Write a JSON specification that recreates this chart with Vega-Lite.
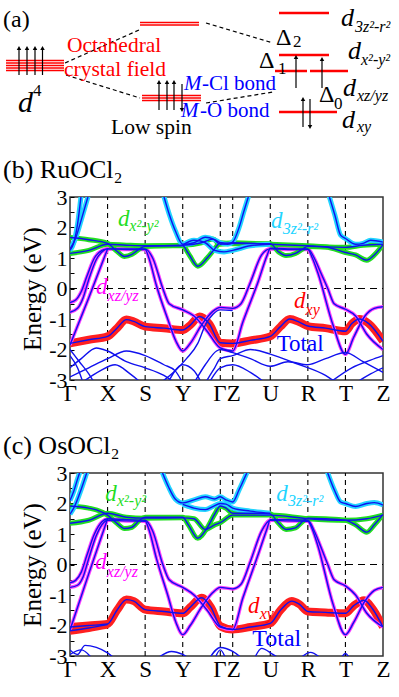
{
"$schema": "https://vega.github.io/schema/vega-lite/v6.json",
"padding": {"left": 2, "top": 0, "right": 0, "bottom": 0},
"spacing": 93,
"bounds": "flush",
"config": {"view": {"stroke": "#333", "strokeWidth": 1.5}, "font": "Liberation Serif", "axis": {"labelOverlap": false}},
"resolve": {"scale": {"x": "independent", "y": "independent", "color": "independent", "shape": "independent"}},
"datasets": {
"aLevels": [
{"g":"l","x":5,"x2":63,"y":60.5},{"g":"l","x":5,"x2":63,"y":63},{"g":"l","x":5,"x2":63,"y":65.5},{"g":"l","x":5,"x2":63,"y":68},{"g":"l","x":5,"x2":63,"y":70.5},
{"g":"m","x":139,"x2":198,"y":22.5},{"g":"m","x":139,"x2":198,"y":25},
{"g":"m","x":141,"x2":200,"y":95.5},{"g":"m","x":141,"x2":200,"y":98},{"g":"m","x":141,"x2":200,"y":100.5},
{"g":"r","x":278,"x2":328,"y":13},{"g":"r","x":278,"x2":328,"y":55},{"g":"r","x":274,"x2":306,"y":71},{"g":"r","x":309,"x2":347,"y":71},{"g":"r","x":278,"x2":336,"y":112}
],
"aDash": [
{"x":64,"y":63,"x2":138,"y2":30},{"x":65,"y":75,"x2":139,"y2":98},{"x":205,"y":23,"x2":272,"y2":43},{"x":205,"y":103,"x2":272,"y2":92}
],
"aArrows": [
{"x":18,"y":75,"y2":48,"d":"up"},{"x":26,"y":75,"y2":48,"d":"up"},{"x":34,"y":75,"y2":48,"d":"up"},{"x":41.5,"y":75,"y2":48,"d":"up"},
{"x":158,"y":110,"y2":82,"d":"up"},{"x":166,"y":110,"y2":82,"d":"up"},{"x":173,"y":110,"y2":82,"d":"up"},{"x":181,"y":84,"y2":110,"d":"down"},
{"x":295,"y":88,"y2":57,"d":"up"},{"x":321,"y":88,"y2":59,"d":"up"},
{"x":302,"y":127,"y2":99,"d":"up"},{"x":309,"y":99,"y2":127,"d":"down"}
],
"aText": [
{"t":"(a)","x":2,"y":27,"g":"n24","c":"k"},
{"t":"Δ","x":275,"y":45,"g":"n24","c":"k"},{"t":"Δ","x":258,"y":68,"g":"n24","c":"k"},{"t":"Δ","x":318,"y":102,"g":"n24","c":"k"},
{"t":"Octahedral","x":66,"y":52,"g":"n22","c":"r"},{"t":"crystal field","x":63,"y":76,"g":"n22","c":"r"},{"t":"Low spin","x":110,"y":134,"g":"n22","c":"k"},
{"t":"-Cl bond","x":201,"y":90,"g":"n21","c":"b"},{"t":"-O bond","x":199,"y":117,"g":"n21","c":"b"},
{"t":"4","x":32,"y":96,"g":"n17","c":"k"},{"t":"2","x":292,"y":47,"g":"n17","c":"k"},{"t":"1","x":277,"y":74,"g":"n17","c":"k"},{"t":"0","x":333,"y":109,"g":"n17","c":"k"},
{"t":"d","x":17,"y":112,"g":"i30","c":"k"},
{"t":"d","x":340,"y":26,"g":"i26","c":"k"},{"t":"d","x":347,"y":59,"g":"i26","c":"k"},{"t":"d","x":342,"y":96,"g":"i26","c":"k"},{"t":"d","x":341,"y":128,"g":"i26","c":"k"},
{"t":"M","x":183,"y":90,"g":"i21","c":"b"},{"t":"M","x":180,"y":117,"g":"i21","c":"b"},
{"t":"3z²-r²","x":354,"y":32,"g":"i16","c":"k"},{"t":"x²-y²","x":360,"y":65,"g":"i16","c":"k"},{"t":"xz/yz","x":356,"y":101,"g":"i16","c":"k"},{"t":"xy","x":356,"y":132,"g":"i16","c":"k"}
],
"kpts": [{"k":1,"e":-3,"e2":3},{"k":2,"e":-3,"e2":3},{"k":3,"e":-3,"e2":3},{"k":4,"e":-3,"e2":3},{"k":4.33,"e":-3,"e2":3},{"k":5.33,"e":-3,"e2":3},{"k":6.33,"e":-3,"e2":3},{"k":7.33,"e":-3,"e2":3}],
"zero": [{"k":0,"k2":8.33,"e":0}],
"labB": [
{"t":"d","k":1.28,"e":2.05,"o":"x2","g":"d"},{"t":"x²-y²","k":1.58,"e":1.9,"o":"x2","g":"s"},
{"t":"d","k":5.35,"e":1.97,"o":"z2","g":"d"},{"t":"3z²-r²","k":5.66,"e":1.8,"o":"z2","g":"s"},
{"t":"d","k":0.69,"e":-0.17,"o":"xz","g":"d"},{"t":"xz/yz","k":1.0,"e":-0.42,"o":"xz","g":"s"},
{"t":"d","k":5.96,"e":-0.64,"o":"xy","g":"d"},{"t":"xy","k":6.27,"e":-0.87,"o":"xy","g":"s"},
{"t":"Total","k":5.5,"e":-2.06,"o":"tot","g":"t"}
],
"labC": [
{"t":"d","k":0.94,"e":2.07,"o":"x2","g":"d"},{"t":"x²-y²","k":1.25,"e":1.93,"o":"x2","g":"s"},
{"t":"d","k":5.49,"e":2.08,"o":"z2","g":"d"},{"t":"3z²-r²","k":5.8,"e":1.93,"o":"z2","g":"s"},
{"t":"d","k":0.67,"e":-0.16,"o":"xz","g":"d"},{"t":"xz/yz","k":0.98,"e":-0.4,"o":"xz","g":"s"},
{"t":"d","k":4.74,"e":-1.58,"o":"xy","g":"d"},{"t":"xy","k":5.05,"e":-1.8,"o":"xy","g":"s"},
{"t":"Total","k":4.85,"e":-2.68,"o":"tot","g":"t"}
],
"bandsB": [
{"b":"r1","o":"xy","k":0,"e":-1.8},{"b":"r1","o":"xy","k":0.5,"e":-1.68},{"b":"r1","o":"xy","k":1,"e":-1.57},{"b":"r1","o":"xy","k":1.25,"e":-1.3},{"b":"r1","o":"xy","k":1.5,"e":-1.02},{"b":"r1","o":"xy","k":1.7,"e":-1.08},{"b":"r1","o":"xy","k":2,"e":-1.25},{"b":"r1","o":"xy","k":2.5,"e":-1.3},{"b":"r1","o":"xy","k":3,"e":-1.36},{"b":"r1","o":"xy","k":3.2,"e":-1.2},{"b":"r1","o":"xy","k":3.45,"e":-0.92},{"b":"r1","o":"xy","k":3.7,"e":-1.15},{"b":"r1","o":"xy","k":4,"e":-1.78},{"b":"r1","o":"xy","k":4.33,"e":-1.8},{"b":"r1","o":"xy","k":4.8,"e":-1.7},{"b":"r1","o":"xy","k":5.33,"e":-1.57},{"b":"r1","o":"xy","k":5.6,"e":-1.25},{"b":"r1","o":"xy","k":5.85,"e":-1.0},{"b":"r1","o":"xy","k":6.1,"e":-1.1},{"b":"r1","o":"xy","k":6.33,"e":-1.23},{"b":"r1","o":"xy","k":6.8,"e":-1.3},{"b":"r1","o":"xy","k":7.33,"e":-1.4},{"b":"r1","o":"xy","k":7.5,"e":-1.15},{"b":"r1","o":"xy","k":7.7,"e":-1.0},{"b":"r1","o":"xy","k":7.95,"e":-1.15},{"b":"r1","o":"xy","k":8.33,"e":-1.73},
{"b":"m1","o":"xz","k":0,"e":-0.46},{"b":"m1","o":"xz","k":0.15,"e":-0.38},{"b":"m1","o":"xz","k":0.3,"e":-0.1},{"b":"m1","o":"xz","k":0.45,"e":0.4},{"b":"m1","o":"xz","k":0.65,"e":1.0},{"b":"m1","o":"xz","k":0.85,"e":1.25},{"b":"m1","o":"xz","k":1,"e":1.3},{"b":"m1","o":"xz","k":1.5,"e":1.3},{"b":"m1","o":"xz","k":2,"e":1.3},{"b":"m1","o":"xz","k":2.2,"e":1.0},{"b":"m1","o":"xz","k":2.47,"e":0},{"b":"m1","o":"xz","k":2.64,"e":-0.5},{"b":"m1","o":"xz","k":3,"e":-0.7},{"b":"m1","o":"xz","k":3.3,"e":-0.9},{"b":"m1","o":"xz","k":3.65,"e":-1.4},{"b":"m1","o":"xz","k":4,"e":-1.95},{"b":"m1","o":"xz","k":4.33,"e":-2.05},{"b":"m1","o":"xz","k":4.6,"e":-1.1},{"b":"m1","o":"xz","k":5,"e":0.2},{"b":"m1","o":"xz","k":5.25,"e":1.1},{"b":"m1","o":"xz","k":5.33,"e":1.32},{"b":"m1","o":"xz","k":5.8,"e":1.3},{"b":"m1","o":"xz","k":6.33,"e":1.3},{"b":"m1","o":"xz","k":6.5,"e":1.0},{"b":"m1","o":"xz","k":6.68,"e":0.5},{"b":"m1","o":"xz","k":6.86,"e":0},{"b":"m1","o":"xz","k":7.03,"e":-0.5},{"b":"m1","o":"xz","k":7.33,"e":-0.68},{"b":"m1","o":"xz","k":7.6,"e":-0.9},{"b":"m1","o":"xz","k":7.9,"e":-1.5},{"b":"m1","o":"xz","k":8.33,"e":-2.0},
{"b":"m2","o":"xz","k":0,"e":-0.78},{"b":"m2","o":"xz","k":0.2,"e":-0.65},{"b":"m2","o":"xz","k":0.35,"e":-0.3},{"b":"m2","o":"xz","k":0.5,"e":0.3},{"b":"m2","o":"xz","k":0.7,"e":0.95},{"b":"m2","o":"xz","k":0.9,"e":1.25},{"b":"m2","o":"xz","k":1,"e":1.3},{"b":"m2","o":"xz","k":1.5,"e":1.28},{"b":"m2","o":"xz","k":2,"e":1.28},{"b":"m2","o":"xz","k":2.1,"e":1.0},{"b":"m2","o":"xz","k":2.3,"e":0.1},{"b":"m2","o":"xz","k":2.6,"e":-1.0},{"b":"m2","o":"xz","k":2.82,"e":-1.73},{"b":"m2","o":"xz","k":3,"e":-2.05},{"b":"m2","o":"xz","k":3.2,"e":-1.8},{"b":"m2","o":"xz","k":3.5,"e":-1.2},{"b":"m2","o":"xz","k":3.8,"e":-0.75},{"b":"m2","o":"xz","k":4,"e":-0.62},{"b":"m2","o":"xz","k":4.33,"e":-0.65},{"b":"m2","o":"xz","k":4.55,"e":-0.5},{"b":"m2","o":"xz","k":4.8,"e":0.2},{"b":"m2","o":"xz","k":5.1,"e":1.1},{"b":"m2","o":"xz","k":5.33,"e":1.3},{"b":"m2","o":"xz","k":5.8,"e":1.28},{"b":"m2","o":"xz","k":6.33,"e":1.28},{"b":"m2","o":"xz","k":6.45,"e":1.0},{"b":"m2","o":"xz","k":6.6,"e":0.5},{"b":"m2","o":"xz","k":7.0,"e":-1.2},{"b":"m2","o":"xz","k":7.33,"e":-2.16},{"b":"m2","o":"xz","k":7.55,"e":-1.6},{"b":"m2","o":"xz","k":7.85,"e":-0.9},{"b":"m2","o":"xz","k":8.1,"e":-0.65},{"b":"m2","o":"xz","k":8.33,"e":-0.6},
{"b":"m3","o":"xz","k":0,"e":-1.85},{"b":"m3","o":"xz","k":0.5,"e":-0.3},{"b":"m3","o":"xz","k":1,"e":1.3},
{"b":"g1","o":"x2","k":0,"e":1.67},{"b":"g1","o":"x2","k":0.5,"e":1.6},{"b":"g1","o":"x2","k":1,"e":1.48},{"b":"g1","o":"x2","k":1.25,"e":1.22},{"b":"g1","o":"x2","k":1.45,"e":1.05},{"b":"g1","o":"x2","k":1.65,"e":1.12},{"b":"g1","o":"x2","k":1.85,"e":1.3},{"b":"g1","o":"x2","k":2,"e":1.38},{"b":"g1","o":"x2","k":2.5,"e":1.4},{"b":"g1","o":"x2","k":3,"e":1.4},{"b":"g1","o":"x2","k":3.15,"e":1.15},{"b":"g1","o":"x2","k":3.4,"e":0.73},{"b":"g1","o":"x2","k":3.65,"e":1.0},{"b":"g1","o":"x2","k":3.85,"e":1.3},{"b":"g1","o":"x2","k":4,"e":1.5},{"b":"g1","o":"x2","k":4.33,"e":1.47},{"b":"g1","o":"x2","k":4.8,"e":1.47},{"b":"g1","o":"x2","k":5.33,"e":1.47},{"b":"g1","o":"x2","k":5.55,"e":1.2},{"b":"g1","o":"x2","k":5.75,"e":1.08},{"b":"g1","o":"x2","k":6,"e":1.15},{"b":"g1","o":"x2","k":6.2,"e":1.3},{"b":"g1","o":"x2","k":6.33,"e":1.38},{"b":"g1","o":"x2","k":6.8,"e":1.36},{"b":"g1","o":"x2","k":7.33,"e":1.18},{"b":"g1","o":"x2","k":7.6,"e":1.1},{"b":"g1","o":"x2","k":7.9,"e":0.93},{"b":"g1","o":"x2","k":8.1,"e":1.1},{"b":"g1","o":"x2","k":8.33,"e":1.44},
{"b":"g2","o":"x2","k":0,"e":1.15},{"b":"g2","o":"x2","k":0.5,"e":1.25},{"b":"g2","o":"x2","k":1,"e":1.45},{"b":"g2","o":"x2","k":1.5,"e":1.42},{"b":"g2","o":"x2","k":2,"e":1.4},{"b":"g2","o":"x2","k":3,"e":1.42},{"b":"g2","o":"x2","k":3.5,"e":1.5},{"b":"g2","o":"x2","k":3.8,"e":1.62},{"b":"g2","o":"x2","k":4,"e":1.45},{"b":"g2","o":"x2","k":4.33,"e":1.5},{"b":"g2","o":"x2","k":5.33,"e":1.45},{"b":"g2","o":"x2","k":6.33,"e":1.4},{"b":"g2","o":"x2","k":7.33,"e":1.35},{"b":"g2","o":"x2","k":7.8,"e":1.42},{"b":"g2","o":"x2","k":8.33,"e":1.45},
{"b":"c1","o":"z2","k":0,"e":1.25},{"b":"c1","o":"z2","k":0.1,"e":1.5},{"b":"c1","o":"z2","k":0.2,"e":2.1},{"b":"c1","o":"z2","k":0.3,"e":3.1},
{"b":"c2","o":"z2","k":0,"e":1.3},{"b":"c2","o":"z2","k":0.15,"e":1.65},{"b":"c2","o":"z2","k":0.3,"e":2.25},{"b":"c2","o":"z2","k":0.5,"e":3.1},
{"b":"c3","o":"z2","k":2.48,"e":3.1},{"b":"c3","o":"z2","k":2.65,"e":2.4},{"b":"c3","o":"z2","k":2.8,"e":1.9},{"b":"c3","o":"z2","k":3,"e":1.45},{"b":"c3","o":"z2","k":3.3,"e":1.5},{"b":"c3","o":"z2","k":3.6,"e":1.68},{"b":"c3","o":"z2","k":3.85,"e":1.6},{"b":"c3","o":"z2","k":4,"e":1.5},{"b":"c3","o":"z2","k":4.2,"e":1.45},{"b":"c3","o":"z2","k":4.33,"e":1.52},{"b":"c3","o":"z2","k":4.5,"e":2.0},{"b":"c3","o":"z2","k":4.62,"e":2.5},{"b":"c3","o":"z2","k":4.77,"e":3.1},
{"b":"c4","o":"z2","k":3,"e":1.42},{"b":"c4","o":"z2","k":3.3,"e":1.58},{"b":"c4","o":"z2","k":3.6,"e":1.5},{"b":"c4","o":"z2","k":3.85,"e":1.25},{"b":"c4","o":"z2","k":4.1,"e":1.2},{"b":"c4","o":"z2","k":4.33,"e":1.25},{"b":"c4","o":"z2","k":4.8,"e":1.4},{"b":"c4","o":"z2","k":5.33,"e":1.45},
{"b":"c5","o":"z2","k":6.88,"e":3.1},{"b":"c5","o":"z2","k":7.05,"e":2.4},{"b":"c5","o":"z2","k":7.2,"e":1.75},{"b":"c5","o":"z2","k":7.33,"e":1.64},{"b":"c5","o":"z2","k":7.6,"e":1.45},{"b":"c5","o":"z2","k":7.8,"e":1.48},{"b":"c5","o":"z2","k":8,"e":1.58},{"b":"c5","o":"z2","k":8.33,"e":1.52},
{"b":"t1","o":"tot","k":0,"e":-2.0},{"b":"t1","o":"tot","k":0.25,"e":-2.4},{"b":"t1","o":"tot","k":0.5,"e":-2.8},{"b":"t1","o":"tot","k":0.65,"e":-3.1},
{"b":"t2","o":"tot","k":0,"e":-2.2},{"b":"t2","o":"tot","k":0.2,"e":-2.6},{"b":"t2","o":"tot","k":0.35,"e":-3.1},
{"b":"t3","o":"tot","k":0,"e":-2.6},{"b":"t3","o":"tot","k":0.3,"e":-2.3},{"b":"t3","o":"tot","k":0.7,"e":-1.95},{"b":"t3","o":"tot","k":1,"e":-2.05},{"b":"t3","o":"tot","k":1.5,"e":-2.4},{"b":"t3","o":"tot","k":2,"e":-2.6},{"b":"t3","o":"tot","k":2.5,"e":-2.85},{"b":"t3","o":"tot","k":2.8,"e":-3.1},
{"b":"t4","o":"tot","k":0,"e":-2.9},{"b":"t4","o":"tot","k":0.5,"e":-2.6},{"b":"t4","o":"tot","k":1,"e":-2.3},{"b":"t4","o":"tot","k":1.5,"e":-2.05},{"b":"t4","o":"tot","k":2,"e":-2.2},{"b":"t4","o":"tot","k":2.5,"e":-2.5},{"b":"t4","o":"tot","k":2.8,"e":-2.7},{"b":"t4","o":"tot","k":3,"e":-3.1},
{"b":"t5","o":"tot","k":0.3,"e":-3.1},{"b":"t5","o":"tot","k":0.8,"e":-2.7},{"b":"t5","o":"tot","k":1.2,"e":-2.5},{"b":"t5","o":"tot","k":1.6,"e":-2.8},{"b":"t5","o":"tot","k":1.9,"e":-3.1},
{"b":"t6","o":"tot","k":2.4,"e":-3.1},{"b":"t6","o":"tot","k":2.8,"e":-2.7},{"b":"t6","o":"tot","k":3.1,"e":-2.3},{"b":"t6","o":"tot","k":3.4,"e":-1.8},{"b":"t6","o":"tot","k":3.6,"e":-1.2},{"b":"t6","o":"tot","k":3.8,"e":-0.85},{"b":"t6","o":"tot","k":4,"e":-0.7},{"b":"t6","o":"tot","k":4.33,"e":-0.72},
{"b":"t7","o":"tot","k":3.3,"e":-3.1},{"b":"t7","o":"tot","k":3.6,"e":-2.5},{"b":"t7","o":"tot","k":3.9,"e":-2.05},{"b":"t7","o":"tot","k":4,"e":-2.0},{"b":"t7","o":"tot","k":4.33,"e":-2.1},{"b":"t7","o":"tot","k":4.8,"e":-2.3},{"b":"t7","o":"tot","k":5.33,"e":-2.55},{"b":"t7","o":"tot","k":5.8,"e":-2.4},{"b":"t7","o":"tot","k":6.33,"e":-2.5},{"b":"t7","o":"tot","k":6.8,"e":-2.3},{"b":"t7","o":"tot","k":7.33,"e":-2.1},{"b":"t7","o":"tot","k":7.8,"e":-2.4},{"b":"t7","o":"tot","k":8.33,"e":-2.75},
{"b":"t8","o":"tot","k":3.6,"e":-3.1},{"b":"t8","o":"tot","k":3.85,"e":-2.6},{"b":"t8","o":"tot","k":4,"e":-2.3},{"b":"t8","o":"tot","k":4.33,"e":-2.2},{"b":"t8","o":"tot","k":4.8,"e":-2.0},{"b":"t8","o":"tot","k":5.33,"e":-2.15},{"b":"t8","o":"tot","k":6,"e":-2.45},{"b":"t8","o":"tot","k":6.8,"e":-2.85},{"b":"t8","o":"tot","k":7.1,"e":-3.1},
{"b":"t9","o":"tot","k":3.7,"e":-3.1},{"b":"t9","o":"tot","k":4,"e":-2.6},{"b":"t9","o":"tot","k":4.33,"e":-2.5},{"b":"t9","o":"tot","k":4.8,"e":-2.75},{"b":"t9","o":"tot","k":5.2,"e":-3.1},
{"b":"t10","o":"tot","k":6.9,"e":-3.1},{"b":"t10","o":"tot","k":7.5,"e":-2.6},{"b":"t10","o":"tot","k":8,"e":-2.35},{"b":"t10","o":"tot","k":8.33,"e":-2.2},
{"b":"t11","o":"tot","k":7.6,"e":-3.1},{"b":"t11","o":"tot","k":8,"e":-2.8},{"b":"t11","o":"tot","k":8.33,"e":-2.6},
{"b":"t12","o":"tot","k":2.6,"e":-3.1},{"b":"t12","o":"tot","k":3,"e":-2.5},{"b":"t12","o":"tot","k":3.3,"e":-2.7},{"b":"t12","o":"tot","k":3.5,"e":-3.1}
],
"bandsC": [
{"b":"r1","o":"xy","k":0,"e":-2.05},{"b":"r1","o":"xy","k":0.5,"e":-2.0},{"b":"r1","o":"xy","k":1,"e":-1.95},{"b":"r1","o":"xy","k":1.25,"e":-1.5},{"b":"r1","o":"xy","k":1.5,"e":-1.15},{"b":"r1","o":"xy","k":1.7,"e":-1.2},{"b":"r1","o":"xy","k":2,"e":-1.48},{"b":"r1","o":"xy","k":2.5,"e":-1.54},{"b":"r1","o":"xy","k":3,"e":-1.6},{"b":"r1","o":"xy","k":3.2,"e":-1.4},{"b":"r1","o":"xy","k":3.5,"e":-1.09},{"b":"r1","o":"xy","k":3.75,"e":-1.4},{"b":"r1","o":"xy","k":4,"e":-2.02},{"b":"r1","o":"xy","k":4.33,"e":-2.13},{"b":"r1","o":"xy","k":4.8,"e":-2.05},{"b":"r1","o":"xy","k":5.33,"e":-1.93},{"b":"r1","o":"xy","k":5.6,"e":-1.5},{"b":"r1","o":"xy","k":5.9,"e":-1.2},{"b":"r1","o":"xy","k":6.1,"e":-1.3},{"b":"r1","o":"xy","k":6.33,"e":-1.54},{"b":"r1","o":"xy","k":6.8,"e":-1.57},{"b":"r1","o":"xy","k":7.33,"e":-1.6},{"b":"r1","o":"xy","k":7.55,"e":-1.35},{"b":"r1","o":"xy","k":7.83,"e":-1.17},{"b":"r1","o":"xy","k":8.05,"e":-1.45},{"b":"r1","o":"xy","k":8.33,"e":-2.05},
{"b":"r2","o":"xy","k":0,"e":-2.17},{"b":"r2","o":"xy","k":0.5,"e":-2.08},{"b":"r2","o":"xy","k":1,"e":-1.97},
{"b":"m1","o":"xz","k":0,"e":-0.6},{"b":"m1","o":"xz","k":0.15,"e":-0.52},{"b":"m1","o":"xz","k":0.3,"e":-0.25},{"b":"m1","o":"xz","k":0.45,"e":0.3},{"b":"m1","o":"xz","k":0.65,"e":1.0},{"b":"m1","o":"xz","k":0.85,"e":1.4},{"b":"m1","o":"xz","k":1,"e":1.5},{"b":"m1","o":"xz","k":1.5,"e":1.47},{"b":"m1","o":"xz","k":2,"e":1.45},{"b":"m1","o":"xz","k":2.2,"e":1.1},{"b":"m1","o":"xz","k":2.47,"e":0},{"b":"m1","o":"xz","k":2.64,"e":-0.5},{"b":"m1","o":"xz","k":3,"e":-0.75},{"b":"m1","o":"xz","k":3.3,"e":-1.0},{"b":"m1","o":"xz","k":3.65,"e":-1.5},{"b":"m1","o":"xz","k":4,"e":-2.05},{"b":"m1","o":"xz","k":4.33,"e":-2.13},{"b":"m1","o":"xz","k":4.6,"e":-1.1},{"b":"m1","o":"xz","k":5,"e":0.3},{"b":"m1","o":"xz","k":5.25,"e":1.2},{"b":"m1","o":"xz","k":5.33,"e":1.47},{"b":"m1","o":"xz","k":5.8,"e":1.47},{"b":"m1","o":"xz","k":6.33,"e":1.45},{"b":"m1","o":"xz","k":6.5,"e":1.1},{"b":"m1","o":"xz","k":6.7,"e":0.5},{"b":"m1","o":"xz","k":6.86,"e":0},{"b":"m1","o":"xz","k":7.03,"e":-0.5},{"b":"m1","o":"xz","k":7.33,"e":-0.7},{"b":"m1","o":"xz","k":7.6,"e":-1.0},{"b":"m1","o":"xz","k":7.9,"e":-1.6},{"b":"m1","o":"xz","k":8.33,"e":-2.05},
{"b":"m2","o":"xz","k":0,"e":-0.75},{"b":"m2","o":"xz","k":0.2,"e":-0.68},{"b":"m2","o":"xz","k":0.35,"e":-0.4},{"b":"m2","o":"xz","k":0.5,"e":0.2},{"b":"m2","o":"xz","k":0.7,"e":0.95},{"b":"m2","o":"xz","k":0.9,"e":1.38},{"b":"m2","o":"xz","k":1,"e":1.45},{"b":"m2","o":"xz","k":1.5,"e":1.43},{"b":"m2","o":"xz","k":2,"e":1.42},{"b":"m2","o":"xz","k":2.1,"e":1.15},{"b":"m2","o":"xz","k":2.3,"e":0.2},{"b":"m2","o":"xz","k":2.6,"e":-1.0},{"b":"m2","o":"xz","k":2.82,"e":-1.9},{"b":"m2","o":"xz","k":3,"e":-2.3},{"b":"m2","o":"xz","k":3.2,"e":-2.0},{"b":"m2","o":"xz","k":3.5,"e":-1.4},{"b":"m2","o":"xz","k":3.8,"e":-0.92},{"b":"m2","o":"xz","k":4,"e":-0.75},{"b":"m2","o":"xz","k":4.33,"e":-0.8},{"b":"m2","o":"xz","k":4.55,"e":-0.65},{"b":"m2","o":"xz","k":4.8,"e":0.1},{"b":"m2","o":"xz","k":5.1,"e":1.1},{"b":"m2","o":"xz","k":5.33,"e":1.45},{"b":"m2","o":"xz","k":5.8,"e":1.43},{"b":"m2","o":"xz","k":6.33,"e":1.42},{"b":"m2","o":"xz","k":6.45,"e":1.15},{"b":"m2","o":"xz","k":6.6,"e":0.6},{"b":"m2","o":"xz","k":7.0,"e":-1.3},{"b":"m2","o":"xz","k":7.33,"e":-2.3},{"b":"m2","o":"xz","k":7.55,"e":-1.9},{"b":"m2","o":"xz","k":7.85,"e":-1.2},{"b":"m2","o":"xz","k":8.1,"e":-0.85},{"b":"m2","o":"xz","k":8.33,"e":-0.75},
{"b":"m3","o":"xz","k":0,"e":-2.15},{"b":"m3","o":"xz","k":0.5,"e":-0.3},{"b":"m3","o":"xz","k":1,"e":1.5},
{"b":"g1","o":"x2","k":0,"e":1.92},{"b":"g1","o":"x2","k":0.5,"e":1.85},{"b":"g1","o":"x2","k":1,"e":1.62},{"b":"g1","o":"x2","k":1.25,"e":1.35},{"b":"g1","o":"x2","k":1.45,"e":1.18},{"b":"g1","o":"x2","k":1.65,"e":1.22},{"b":"g1","o":"x2","k":1.85,"e":1.45},{"b":"g1","o":"x2","k":2,"e":1.55},{"b":"g1","o":"x2","k":2.5,"e":1.55},{"b":"g1","o":"x2","k":3,"e":1.55},{"b":"g1","o":"x2","k":3.15,"e":1.3},{"b":"g1","o":"x2","k":3.4,"e":0.86},{"b":"g1","o":"x2","k":3.65,"e":1.2},{"b":"g1","o":"x2","k":3.85,"e":1.65},{"b":"g1","o":"x2","k":4,"e":1.92},{"b":"g1","o":"x2","k":4.15,"e":1.85},{"b":"g1","o":"x2","k":4.33,"e":1.68},{"b":"g1","o":"x2","k":4.8,"e":1.68},{"b":"g1","o":"x2","k":5.33,"e":1.66},{"b":"g1","o":"x2","k":5.55,"e":1.35},{"b":"g1","o":"x2","k":5.75,"e":1.15},{"b":"g1","o":"x2","k":6,"e":1.2},{"b":"g1","o":"x2","k":6.2,"e":1.42},{"b":"g1","o":"x2","k":6.33,"e":1.52},{"b":"g1","o":"x2","k":6.8,"e":1.5},{"b":"g1","o":"x2","k":7.33,"e":1.45},{"b":"g1","o":"x2","k":7.6,"e":1.3},{"b":"g1","o":"x2","k":7.9,"e":1.06},{"b":"g1","o":"x2","k":8.1,"e":1.3},{"b":"g1","o":"x2","k":8.33,"e":1.64},
{"b":"g2","o":"x2","k":0,"e":1.35},{"b":"g2","o":"x2","k":0.5,"e":1.45},{"b":"g2","o":"x2","k":1,"e":1.68},{"b":"g2","o":"x2","k":1.5,"e":1.55},{"b":"g2","o":"x2","k":2,"e":1.52},{"b":"g2","o":"x2","k":3,"e":1.53},{"b":"g2","o":"x2","k":3.3,"e":1.5},{"b":"g2","o":"x2","k":3.6,"e":1.15},{"b":"g2","o":"x2","k":3.85,"e":1.3},{"b":"g2","o":"x2","k":4,"e":1.37},{"b":"g2","o":"x2","k":4.33,"e":1.62},{"b":"g2","o":"x2","k":5.33,"e":1.62},{"b":"g2","o":"x2","k":6.33,"e":1.5},{"b":"g2","o":"x2","k":7.33,"e":1.45},{"b":"g2","o":"x2","k":7.9,"e":1.5},{"b":"g2","o":"x2","k":8.33,"e":1.62},
{"b":"c1","o":"z2","k":0,"e":2.1},{"b":"c1","o":"z2","k":0.1,"e":2.4},{"b":"c1","o":"z2","k":0.2,"e":2.8},{"b":"c1","o":"z2","k":0.28,"e":3.1},
{"b":"c2","o":"z2","k":0,"e":1.65},{"b":"c2","o":"z2","k":0.12,"e":1.9},{"b":"c2","o":"z2","k":0.25,"e":2.3},{"b":"c2","o":"z2","k":0.47,"e":3.1},
{"b":"c3","o":"z2","k":2.43,"e":3.1},{"b":"c3","o":"z2","k":2.62,"e":2.55},{"b":"c3","o":"z2","k":2.8,"e":2.15},{"b":"c3","o":"z2","k":3,"e":2.02},{"b":"c3","o":"z2","k":3.3,"e":2.12},{"b":"c3","o":"z2","k":3.6,"e":2.22},{"b":"c3","o":"z2","k":3.85,"e":2.15},{"b":"c3","o":"z2","k":4,"e":2.22},{"b":"c3","o":"z2","k":4.15,"e":2.12},{"b":"c3","o":"z2","k":4.33,"e":2.05},{"b":"c3","o":"z2","k":4.5,"e":2.45},{"b":"c3","o":"z2","k":4.74,"e":3.1},
{"b":"c4","o":"z2","k":3,"e":1.97},{"b":"c4","o":"z2","k":3.3,"e":1.85},{"b":"c4","o":"z2","k":3.6,"e":1.8},{"b":"c4","o":"z2","k":3.8,"e":1.9},{"b":"c4","o":"z2","k":4,"e":2.0},{"b":"c4","o":"z2","k":4.15,"e":1.98},{"b":"c4","o":"z2","k":4.33,"e":1.85},{"b":"c4","o":"z2","k":4.8,"e":1.75},{"b":"c4","o":"z2","k":5.33,"e":1.68},
{"b":"c5","o":"z2","k":6.83,"e":3.1},{"b":"c5","o":"z2","k":7.05,"e":2.4},{"b":"c5","o":"z2","k":7.2,"e":2.05},{"b":"c5","o":"z2","k":7.33,"e":2.0},{"b":"c5","o":"z2","k":7.6,"e":1.9},{"b":"c5","o":"z2","k":7.9,"e":2.0},{"b":"c5","o":"z2","k":8.1,"e":2.03},{"b":"c5","o":"z2","k":8.33,"e":1.95},
{"b":"t1","o":"tot","k":0,"e":-2.8},{"b":"t1","o":"tot","k":0.2,"e":-2.95},{"b":"t1","o":"tot","k":0.4,"e":-2.65},{"b":"t1","o":"tot","k":0.7,"e":-2.72},{"b":"t1","o":"tot","k":1,"e":-2.9},{"b":"t1","o":"tot","k":1.2,"e":-3.1},
{"b":"t2","o":"tot","k":0,"e":-2.95},{"b":"t2","o":"tot","k":0.3,"e":-2.8},{"b":"t2","o":"tot","k":0.6,"e":-3.1},
{"b":"t3","o":"tot","k":2.3,"e":-3.1},{"b":"t3","o":"tot","k":2.7,"e":-2.85},{"b":"t3","o":"tot","k":3,"e":-2.95},{"b":"t3","o":"tot","k":3.2,"e":-3.1},
{"b":"t4","o":"tot","k":3.7,"e":-3.1},{"b":"t4","o":"tot","k":4,"e":-2.72},{"b":"t4","o":"tot","k":4.33,"e":-2.85},{"b":"t4","o":"tot","k":4.6,"e":-3.1},
{"b":"t5","o":"tot","k":4.9,"e":-3.1},{"b":"t5","o":"tot","k":5.1,"e":-2.75},{"b":"t5","o":"tot","k":5.4,"e":-2.95},{"b":"t5","o":"tot","k":5.6,"e":-3.1},
{"b":"t6","o":"tot","k":6.1,"e":-3.1},{"b":"t6","o":"tot","k":6.4,"e":-2.88},{"b":"t6","o":"tot","k":6.7,"e":-3.1},
{"b":"t7","o":"tot","k":3.85,"e":-3.1},{"b":"t7","o":"tot","k":4,"e":-2.8},{"b":"t7","o":"tot","k":4.15,"e":-3.1},
{"b":"t8","o":"tot","k":7.2,"e":-3.1},{"b":"t8","o":"tot","k":7.33,"e":-2.92},{"b":"t8","o":"tot","k":7.45,"e":-3.1}
]
},
"vconcat": [
{
"width": 313, "height": 104,
"view": {"stroke": null},
"layer": [
{"data": {"name": "aLevels"}, "transform": [{"filter": "datum.g != 'r'"}],
 "mark": {"type": "rule", "color": "#ff0000", "strokeWidth": 1.7},
 "encoding": {
  "x": {"field": "x", "type": "quantitative", "scale": {"domain": [69, 382], "nice": false, "zero": false}, "axis": null},
  "x2": {"field": "x2"},
  "y": {"field": "y", "type": "quantitative", "scale": {"domain": [0, 104], "reverse": true, "nice": false, "zero": false}, "axis": null}}},
{"data": {"name": "aLevels"}, "transform": [{"filter": "datum.g == 'r'"}],
 "mark": {"type": "rule", "color": "#ff0000", "strokeWidth": 2.5},
 "encoding": {"x": {"field": "x", "type": "quantitative"}, "x2": {"field": "x2"}, "y": {"field": "y", "type": "quantitative"}}},
{"data": {"name": "aDash"},
 "mark": {"type": "rule", "color": "#000", "strokeWidth": 1.2, "strokeDash": [4, 3]},
 "encoding": {"x": {"field": "x", "type": "quantitative"}, "x2": {"field": "x2"}, "y": {"field": "y", "type": "quantitative"}, "y2": {"field": "y2"}}},
{"data": {"name": "aArrows"},
 "mark": {"type": "rule", "color": "#000", "strokeWidth": 1.2},
 "encoding": {"x": {"field": "x", "type": "quantitative"}, "y": {"field": "y", "type": "quantitative"}, "y2": {"field": "y2"}}},
{"data": {"name": "aArrows"},
 "mark": {"type": "point", "filled": true, "color": "#000", "size": 20, "opacity": 1},
 "encoding": {"x": {"field": "x", "type": "quantitative"}, "y": {"field": "y2", "type": "quantitative"},
  "shape": {"field": "d", "type": "nominal", "scale": {"domain": ["up", "down"], "range": ["triangle-up", "triangle-down"]}, "legend": null}}},
{"data": {"name": "aText"}, "transform": [{"filter": "datum.g == 'n24'"}],
 "mark": {"type": "text", "align": "left", "baseline": "alphabetic", "font": "Liberation Serif", "fontSize": 24},
 "encoding": {"x": {"field": "x", "type": "quantitative"}, "y": {"field": "y", "type": "quantitative"}, "text": {"field": "t"},
  "color": {"field": "c", "type": "nominal", "scale": {"domain": ["k", "r", "b"], "range": ["#000000", "#ff0000", "#0000ff"]}, "legend": null}}},
{"data": {"name": "aText"}, "transform": [{"filter": "datum.g == 'n22'"}],
 "mark": {"type": "text", "align": "left", "baseline": "alphabetic", "font": "Liberation Serif", "fontSize": 21.5},
 "encoding": {"x": {"field": "x", "type": "quantitative"}, "y": {"field": "y", "type": "quantitative"}, "text": {"field": "t"}, "color": {"field": "c", "type": "nominal"}}},
{"data": {"name": "aText"}, "transform": [{"filter": "datum.g == 'n21'"}],
 "mark": {"type": "text", "align": "left", "baseline": "alphabetic", "font": "Liberation Serif", "fontSize": 21},
 "encoding": {"x": {"field": "x", "type": "quantitative"}, "y": {"field": "y", "type": "quantitative"}, "text": {"field": "t"}, "color": {"field": "c", "type": "nominal"}}},
{"data": {"name": "aText"}, "transform": [{"filter": "datum.g == 'n17'"}],
 "mark": {"type": "text", "align": "left", "baseline": "alphabetic", "font": "Liberation Serif", "fontSize": 17},
 "encoding": {"x": {"field": "x", "type": "quantitative"}, "y": {"field": "y", "type": "quantitative"}, "text": {"field": "t"}, "color": {"field": "c", "type": "nominal"}}},
{"data": {"name": "aText"}, "transform": [{"filter": "datum.g == 'i30'"}],
 "mark": {"type": "text", "align": "left", "baseline": "alphabetic", "font": "Liberation Serif", "fontStyle": "italic", "fontSize": 30},
 "encoding": {"x": {"field": "x", "type": "quantitative"}, "y": {"field": "y", "type": "quantitative"}, "text": {"field": "t"}, "color": {"field": "c", "type": "nominal"}}},
{"data": {"name": "aText"}, "transform": [{"filter": "datum.g == 'i26'"}],
 "mark": {"type": "text", "align": "left", "baseline": "alphabetic", "font": "Liberation Serif", "fontStyle": "italic", "fontSize": 26},
 "encoding": {"x": {"field": "x", "type": "quantitative"}, "y": {"field": "y", "type": "quantitative"}, "text": {"field": "t"}, "color": {"field": "c", "type": "nominal"}}},
{"data": {"name": "aText"}, "transform": [{"filter": "datum.g == 'i21'"}],
 "mark": {"type": "text", "align": "left", "baseline": "alphabetic", "font": "Liberation Serif", "fontStyle": "italic", "fontSize": 21},
 "encoding": {"x": {"field": "x", "type": "quantitative"}, "y": {"field": "y", "type": "quantitative"}, "text": {"field": "t"}, "color": {"field": "c", "type": "nominal"}}},
{"data": {"name": "aText"}, "transform": [{"filter": "datum.g == 'i16'"}],
 "mark": {"type": "text", "align": "left", "baseline": "alphabetic", "font": "Liberation Serif", "fontStyle": "italic", "fontSize": 16},
 "encoding": {"x": {"field": "x", "type": "quantitative"}, "y": {"field": "y", "type": "quantitative"}, "text": {"field": "t"}, "color": {"field": "c", "type": "nominal"}}}
]
},
{
"title": {"text": "(b) RuOCl₂", "anchor": "start", "frame": "group", "dx": -67, "dy": 34, "offset": 16, "baseline": "alphabetic", "fontSize": 26, "font": "Liberation Serif", "fontWeight": "normal", "color": "#000"},
"width": 313, "height": 183,
"encoding": {
 "x": {"field": "k", "type": "quantitative", "scale": {"domain": [0, 8.33], "nice": false, "zero": false},
  "axis": {"values": [0, 0.5, 1, 1.5, 2, 2.5, 3, 3.58, 4.165, 4.75, 5.33, 5.83, 6.33, 6.83, 7.33, 7.83, 8.33], "labelExpr": "datum.value == 0 ? 'Γ' : datum.value == 1 ? 'X' : datum.value == 2 ? 'S' : datum.value == 3 ? 'Y' : datum.value == 4.165 ? 'ΓZ' : datum.value == 5.33 ? 'U' : datum.value == 6.33 ? 'R' : datum.value == 7.33 ? 'T' : datum.value == 8.33 ? 'Z' : ''", "title": null, "labelFont": "Liberation Serif", "labelFontSize": 23, "labelColor": "#000", "labelFlush": false, "labelOverlap": false, "labelBound": false, "labelPadding": 2, "grid": false, "domain": false, "ticks": false}},
 "y": {"field": "e", "type": "quantitative", "scale": {"domain": [-3, 3], "nice": false, "zero": false},
  "axis": {"values": [-3, -2.5, -2, -1.5, -1, -0.5, 0, 0.5, 1, 1.5, 2, 2.5, 3], "labelExpr": "datum.value % 1 != 0 ? '' : datum.value < 0 ? '-' + abs(datum.value) : '' + datum.value", "title": "Energy (eV)", "titleFont": "Liberation Serif", "titleFontSize": 25, "titleFontWeight": "normal", "titleColor": "#000", "titlePadding": 3, "labelFont": "Liberation Serif", "labelFontSize": 22, "labelColor": "#000", "labelFlush": false, "labelOverlap": false, "labelPadding": 7, "grid": false, "domain": false, "ticks": true, "tickSize": -4, "tickColor": "#000"}}
},
"layer": [
{"data": {"name": "kpts"},
 "mark": {"type": "rule", "color": "#000", "strokeWidth": 1.1, "strokeDash": [5, 4]},
 "encoding": {"y2": {"field": "e2"}}},
{"data": {"name": "zero"},
 "mark": {"type": "rule", "color": "#000", "strokeWidth": 1.2, "strokeDash": [7, 5]},
 "encoding": {"x2": {"field": "k2"}}},
{"data": {"name": "bandsB"}, "transform": [{"filter": "datum.o == 'xy'"}],
 "mark": {"type": "line", "interpolate": "monotone", "clip": true, "strokeWidth": 8, "color": "#ff2020"},
 "encoding": {"detail": {"field": "b"}}},
{"data": {"name": "bandsB"}, "transform": [{"filter": "datum.o == 'xz'"}],
 "mark": {"type": "line", "interpolate": "monotone", "clip": true, "strokeWidth": 3.5, "color": "#ff40ff"},
 "encoding": {"detail": {"field": "b"}}},
{"data": {"name": "bandsB"}, "transform": [{"filter": "datum.o == 'x2' || datum.o == 'z2'"}],
 "mark": {"type": "line", "interpolate": "monotone", "clip": true, "strokeWidth": 5},
 "encoding": {"detail": {"field": "b"},
  "color": {"field": "o", "type": "nominal", "scale": {"domain": ["xy", "xz", "x2", "z2", "tot"], "range": ["#ff0000", "#ff00ff", "#22dd22", "#22d4ff", "#0000ff"]}, "legend": null}}},
{"data": {"name": "bandsB"},
 "mark": {"type": "line", "interpolate": "monotone", "clip": true, "strokeWidth": 1.4, "color": "#1010ee"},
 "encoding": {"detail": {"field": "b"}}},
{"data": {"name": "labB"}, "transform": [{"filter": "datum.g == 'd'"}],
 "mark": {"type": "text", "align": "left", "baseline": "alphabetic", "font": "Liberation Serif", "fontStyle": "italic", "fontSize": 23},
 "encoding": {"text": {"field": "t"}, "color": {"field": "o", "type": "nominal"}}},
{"data": {"name": "labB"}, "transform": [{"filter": "datum.g == 's'"}],
 "mark": {"type": "text", "align": "left", "baseline": "alphabetic", "font": "Liberation Serif", "fontStyle": "italic", "fontSize": 16},
 "encoding": {"text": {"field": "t"}, "color": {"field": "o", "type": "nominal"}}},
{"data": {"name": "labB"}, "transform": [{"filter": "datum.g == 't'"}],
 "mark": {"type": "text", "align": "left", "baseline": "alphabetic", "font": "Liberation Serif", "fontSize": 23},
 "encoding": {"text": {"field": "t"}, "color": {"field": "o", "type": "nominal"}}}
]
},
{
"title": {"text": "(c) OsOCl₂", "anchor": "start", "frame": "group", "dx": -67, "dy": 34, "offset": 16, "baseline": "alphabetic", "fontSize": 26, "font": "Liberation Serif", "fontWeight": "normal", "color": "#000"},
"width": 313, "height": 183,
"encoding": {
 "x": {"field": "k", "type": "quantitative", "scale": {"domain": [0, 8.33], "nice": false, "zero": false},
  "axis": {"values": [0, 0.5, 1, 1.5, 2, 2.5, 3, 3.58, 4.165, 4.75, 5.33, 5.83, 6.33, 6.83, 7.33, 7.83, 8.33], "labelExpr": "datum.value == 0 ? 'Γ' : datum.value == 1 ? 'X' : datum.value == 2 ? 'S' : datum.value == 3 ? 'Y' : datum.value == 4.165 ? 'ΓZ' : datum.value == 5.33 ? 'U' : datum.value == 6.33 ? 'R' : datum.value == 7.33 ? 'T' : datum.value == 8.33 ? 'Z' : ''", "title": null, "labelFont": "Liberation Serif", "labelFontSize": 23, "labelColor": "#000", "labelFlush": false, "labelOverlap": false, "labelBound": false, "labelPadding": 2, "grid": false, "domain": false, "ticks": false}},
 "y": {"field": "e", "type": "quantitative", "scale": {"domain": [-3, 3], "nice": false, "zero": false},
  "axis": {"values": [-3, -2.5, -2, -1.5, -1, -0.5, 0, 0.5, 1, 1.5, 2, 2.5, 3], "labelExpr": "datum.value % 1 != 0 ? '' : datum.value < 0 ? '-' + abs(datum.value) : '' + datum.value", "title": "Energy (eV)", "titleFont": "Liberation Serif", "titleFontSize": 25, "titleFontWeight": "normal", "titleColor": "#000", "titlePadding": 3, "labelFont": "Liberation Serif", "labelFontSize": 22, "labelColor": "#000", "labelFlush": false, "labelOverlap": false, "labelPadding": 7, "grid": false, "domain": false, "ticks": true, "tickSize": -4, "tickColor": "#000"}}
},
"layer": [
{"data": {"name": "kpts"},
 "mark": {"type": "rule", "color": "#000", "strokeWidth": 1.1, "strokeDash": [5, 4]},
 "encoding": {"y2": {"field": "e2"}}},
{"data": {"name": "zero"},
 "mark": {"type": "rule", "color": "#000", "strokeWidth": 1.2, "strokeDash": [7, 5]},
 "encoding": {"x2": {"field": "k2"}}},
{"data": {"name": "bandsC"}, "transform": [{"filter": "datum.o == 'xy'"}],
 "mark": {"type": "line", "interpolate": "monotone", "clip": true, "strokeWidth": 8, "color": "#ff2020"},
 "encoding": {"detail": {"field": "b"}}},
{"data": {"name": "bandsC"}, "transform": [{"filter": "datum.o == 'xz'"}],
 "mark": {"type": "line", "interpolate": "monotone", "clip": true, "strokeWidth": 3.5, "color": "#ff40ff"},
 "encoding": {"detail": {"field": "b"}}},
{"data": {"name": "bandsC"}, "transform": [{"filter": "datum.o == 'x2' || datum.o == 'z2'"}],
 "mark": {"type": "line", "interpolate": "monotone", "clip": true, "strokeWidth": 5},
 "encoding": {"detail": {"field": "b"},
  "color": {"field": "o", "type": "nominal", "scale": {"domain": ["xy", "xz", "x2", "z2", "tot"], "range": ["#ff0000", "#ff00ff", "#22dd22", "#22d4ff", "#0000ff"]}, "legend": null}}},
{"data": {"name": "bandsC"},
 "mark": {"type": "line", "interpolate": "monotone", "clip": true, "strokeWidth": 1.4, "color": "#1010ee"},
 "encoding": {"detail": {"field": "b"}}},
{"data": {"name": "labC"}, "transform": [{"filter": "datum.g == 'd'"}],
 "mark": {"type": "text", "align": "left", "baseline": "alphabetic", "font": "Liberation Serif", "fontStyle": "italic", "fontSize": 23},
 "encoding": {"text": {"field": "t"}, "color": {"field": "o", "type": "nominal"}}},
{"data": {"name": "labC"}, "transform": [{"filter": "datum.g == 's'"}],
 "mark": {"type": "text", "align": "left", "baseline": "alphabetic", "font": "Liberation Serif", "fontStyle": "italic", "fontSize": 16},
 "encoding": {"text": {"field": "t"}, "color": {"field": "o", "type": "nominal"}}},
{"data": {"name": "labC"}, "transform": [{"filter": "datum.g == 't'"}],
 "mark": {"type": "text", "align": "left", "baseline": "alphabetic", "font": "Liberation Serif", "fontSize": 24},
 "encoding": {"text": {"field": "t"}, "color": {"field": "o", "type": "nominal"}}}
]
}
]
}
